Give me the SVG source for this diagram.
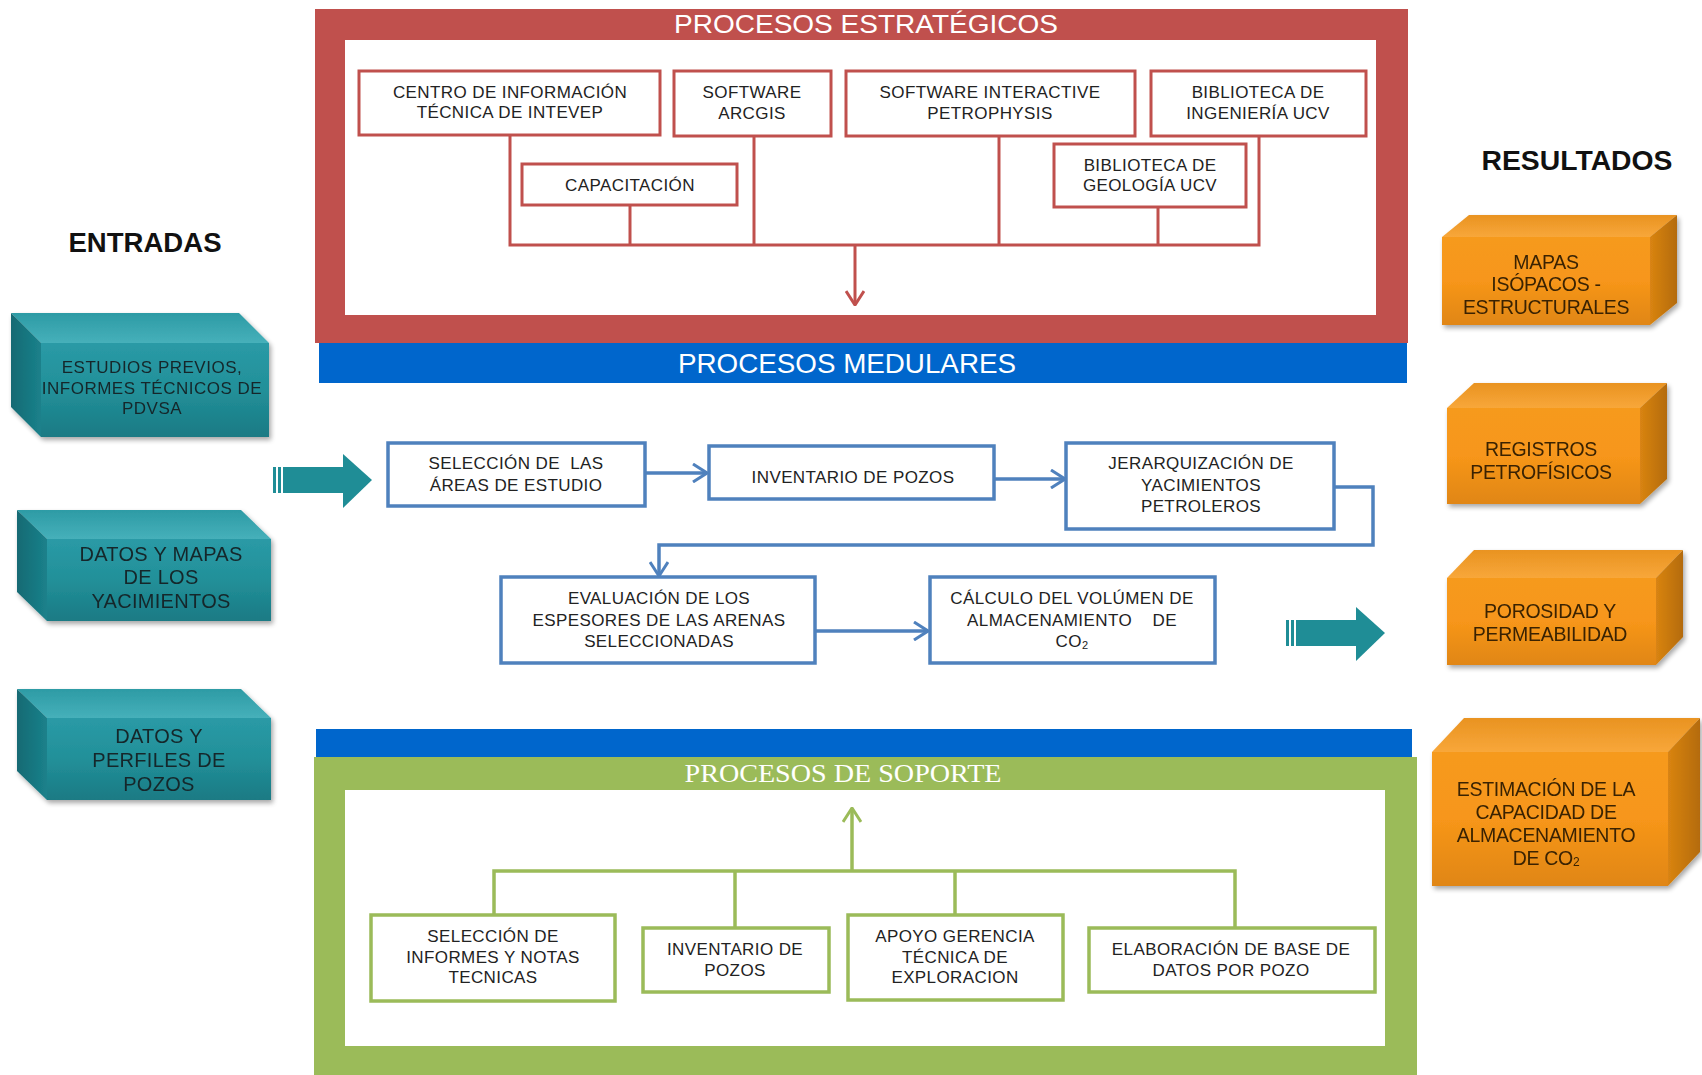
<svg xmlns="http://www.w3.org/2000/svg" width="1702" height="1075" viewBox="0 0 1702 1075">
<defs>
<style>
.t{font-family:'Liberation Sans',Arial,sans-serif;text-anchor:middle;dominant-baseline:central}
.rb{fill:#fff;stroke:#C0504D;stroke-width:3}
.bb{fill:#fff;stroke:#4F81BD;stroke-width:3.5}
.gb{fill:#fff;stroke:#9BBB59;stroke-width:3.5}
.bx{font-size:17px;fill:#222;letter-spacing:0.4px}
.tl{font-size:17px;fill:#14272a;letter-spacing:0.5px}
.tl2{font-size:20px;fill:#14272a;letter-spacing:0.3px}
.ol{font-size:19.5px;fill:#3a2405;letter-spacing:-0.3px}
.hd{font-size:27.5px;font-weight:bold;fill:#111}
.rl{fill:none;stroke:#C0504D;stroke-width:3}
.bl{fill:none;stroke:#4F81BD;stroke-width:3.5}
.gl{fill:none;stroke:#9BBB59;stroke-width:3.5}
</style>
<marker id="ar" viewBox="0 0 16 20" refX="15" refY="10" markerWidth="16" markerHeight="20" markerUnits="userSpaceOnUse" orient="auto"><path d="M1,1 L15,10 L1,19" fill="none" stroke="#C0504D" stroke-width="3"/></marker>
<marker id="ab" viewBox="0 0 16 20" refX="15" refY="10" markerWidth="16" markerHeight="20" markerUnits="userSpaceOnUse" orient="auto"><path d="M1,1 L15,10 L1,19" fill="none" stroke="#4F81BD" stroke-width="3"/></marker>
<marker id="ag" viewBox="0 0 16 20" refX="15" refY="10" markerWidth="16" markerHeight="20" markerUnits="userSpaceOnUse" orient="auto"><path d="M1,1 L15,10 L1,19" fill="none" stroke="#9BBB59" stroke-width="3"/></marker>
<linearGradient id="tf" x1="0" y1="0" x2="0" y2="1"><stop offset="0" stop-color="#2a9aa6"/><stop offset="0.5" stop-color="#229099"/><stop offset="1" stop-color="#1a7a84"/></linearGradient>
<linearGradient id="tt" x1="0" y1="0" x2="0" y2="1"><stop offset="0" stop-color="#2d9ba5"/><stop offset="1" stop-color="#46b0ba"/></linearGradient>
<linearGradient id="ts" x1="0" y1="0" x2="1" y2="0"><stop offset="0" stop-color="#126a73"/><stop offset="1" stop-color="#1b818b"/></linearGradient>
<linearGradient id="of" x1="0" y1="0" x2="0" y2="1"><stop offset="0" stop-color="#f69a1f"/><stop offset="0.5" stop-color="#f7961a"/><stop offset="1" stop-color="#e08612"/></linearGradient>
<linearGradient id="ot" x1="0" y1="0" x2="0" y2="1"><stop offset="0" stop-color="#e99321"/><stop offset="1" stop-color="#f8a73a"/></linearGradient>
<linearGradient id="os" x1="0" y1="0" x2="1" y2="0"><stop offset="0" stop-color="#d98412"/><stop offset="1" stop-color="#b46b0a"/></linearGradient>
<filter id="sh" x="-10%" y="-10%" width="125%" height="130%"><feGaussianBlur in="SourceAlpha" stdDeviation="2.5"/><feOffset dx="2" dy="3"/><feComponentTransfer><feFuncA type="linear" slope="0.35"/></feComponentTransfer><feMerge><feMergeNode/><feMergeNode in="SourceGraphic"/></feMerge></filter>
<g id="tarrow"><rect x="0" y="13" width="3" height="26" fill="#1f8d96"/><rect x="5" y="13" width="3" height="26" fill="#1f8d96"/><rect x="10" y="13" width="62" height="26" fill="#1f8d96"/><path d="M70,0 L99,26 L70,54 Z" fill="#1f8d96"/></g>
</defs>
<rect width="1702" height="1075" fill="#fff"/>

<!-- Frames -->
<g id="estrategicos">
<rect x="315" y="9" width="1093" height="334" fill="#C0504D"/>
<rect x="345" y="40" width="1031" height="275" fill="#fff"/>
<text class="t" x="866" y="24" font-size="26" fill="#fff" textLength="384" lengthAdjust="spacingAndGlyphs">PROCESOS ESTRATÉGICOS</text>
</g>
<g id="medulares">
<rect x="319" y="343" width="1088" height="40" fill="#0066CC"/>
<text class="t" x="847" y="363" font-size="28" fill="#fff" textLength="338" lengthAdjust="spacingAndGlyphs">PROCESOS MEDULARES</text>
</g>
<g id="soporte">
<rect x="316" y="729" width="1096" height="29" fill="#0066CC"/>
<rect x="314" y="757" width="1103" height="330" fill="#9BBB59"/>
<rect x="345" y="790" width="1040" height="256" fill="#fff"/>
<text x="843" y="773" font-family="'Liberation Serif','Times New Roman',serif" font-size="26" fill="#fff" text-anchor="middle" dominant-baseline="central" textLength="317" lengthAdjust="spacingAndGlyphs">PROCESOS DE SOPORTE</text>
</g>

<!-- Headings -->
<text id="entradas" class="t hd" x="145" y="242" textLength="153" lengthAdjust="spacingAndGlyphs">ENTRADAS</text>
<text id="resultados" class="t hd" x="1577" y="160" textLength="191" lengthAdjust="spacingAndGlyphs">RESULTADOS</text>

<!-- Connectors -->
<g id="connectors">
<path class="rl" d="M510,135 V245 H1259 V136"/>
<path class="rl" d="M630,205 V245"/>
<path class="rl" d="M754,136 V245"/>
<path class="rl" d="M999,136 V245"/>
<path class="rl" d="M1158,207 V245"/>
<path class="rl" d="M855,245 V305" marker-end="url(#ar)"/>
<path class="bl" d="M645,473 H707" marker-end="url(#ab)"/>
<path class="bl" d="M994,479 H1065" marker-end="url(#ab)"/>
<path class="bl" d="M1334,487 H1373 V545 H659 V576" marker-end="url(#ab)"/>
<path class="bl" d="M815,631 H928" marker-end="url(#ab)"/>
<path class="gl" d="M494,915 V871 H1235 V928"/>
<path class="gl" d="M735,928 V871"/>
<path class="gl" d="M955,915 V871"/>
<path class="gl" d="M852,871 V808" marker-end="url(#ag)"/>
<use href="#tarrow" x="273" y="454"/>
<use href="#tarrow" x="1286" y="607"/>
</g>

<!-- Estrategicos nodes -->
<g id="centro"><rect class="rb" x="359" y="71" width="301" height="64"/><text class="t bx" x="510" y="92">CENTRO DE INFORMACIÓN</text><text class="t bx" x="510" y="112">TÉCNICA DE INTEVEP</text></g>
<g id="arcgis"><rect class="rb" x="674" y="71" width="157" height="65"/><text class="t bx" x="752" y="92">SOFTWARE</text><text class="t bx" x="752" y="113">ARCGIS</text></g>
<g id="petrophysis"><rect class="rb" x="846" y="71" width="289" height="65"/><text class="t bx" x="990" y="92">SOFTWARE INTERACTIVE</text><text class="t bx" x="990" y="113">PETROPHYSIS</text></g>
<g id="ingenieria"><rect class="rb" x="1151" y="71" width="215" height="65"/><text class="t bx" x="1258" y="92">BIBLIOTECA DE</text><text class="t bx" x="1258" y="113">INGENIERÍA UCV</text></g>
<g id="capacitacion"><rect class="rb" x="522" y="164" width="215" height="41"/><text class="t bx" x="630" y="185">CAPACITACIÓN</text></g>
<g id="geologia"><rect class="rb" x="1054" y="144" width="192" height="63"/><text class="t bx" x="1150" y="165">BIBLIOTECA DE</text><text class="t bx" x="1150" y="185">GEOLOGÍA UCV</text></g>

<!-- Medulares nodes -->
<g id="seleccion"><rect class="bb" x="388" y="443" width="257" height="63"/><text class="t bx" x="516" y="463" xml:space="preserve">SELECCIÓN DE  LAS</text><text class="t bx" x="516" y="485">ÁREAS DE ESTUDIO</text></g>
<g id="inventario"><rect class="bb" x="709" y="446" width="285" height="53"/><text class="t bx" x="853" y="477">INVENTARIO DE POZOS</text></g>
<g id="jerarquizacion"><rect class="bb" x="1066" y="443" width="268" height="86"/><text class="t bx" x="1201" y="463">JERARQUIZACIÓN DE</text><text class="t bx" x="1201" y="485">YACIMIENTOS</text><text class="t bx" x="1201" y="506">PETROLEROS</text></g>
<g id="evaluacion"><rect class="bb" x="501" y="577" width="314" height="86"/><text class="t bx" x="659" y="598">EVALUACIÓN DE LOS</text><text class="t bx" x="659" y="620">ESPESORES DE LAS ARENAS</text><text class="t bx" x="659" y="641">SELECCIONADAS</text></g>
<g id="calculo"><rect class="bb" x="930" y="577" width="285" height="86"/><text class="t bx" x="1072" y="598">CÁLCULO DEL VOLÚMEN DE</text><text class="t bx" x="1072" y="620" xml:space="preserve">ALMACENAMIENTO    DE</text><text class="t bx" x="1072" y="641">CO<tspan font-size="11" dy="4">2</tspan></text></g>

<!-- Soporte nodes -->
<g id="sel_informes"><rect class="gb" x="371" y="915" width="244" height="86"/><text class="t bx" x="493" y="936">SELECCIÓN DE</text><text class="t bx" x="493" y="957">INFORMES Y NOTAS</text><text class="t bx" x="493" y="977">TECNICAS</text></g>
<g id="inv_pozos"><rect class="gb" x="643" y="928" width="186" height="64"/><text class="t bx" x="735" y="949">INVENTARIO DE</text><text class="t bx" x="735" y="970">POZOS</text></g>
<g id="apoyo"><rect class="gb" x="848" y="915" width="215" height="85"/><text class="t bx" x="955" y="936">APOYO GERENCIA</text><text class="t bx" x="955" y="957">TÉCNICA DE</text><text class="t bx" x="955" y="977">EXPLORACION</text></g>
<g id="elaboracion"><rect class="gb" x="1089" y="928" width="286" height="64"/><text class="t bx" x="1231" y="949">ELABORACIÓN DE BASE DE</text><text class="t bx" x="1231" y="970">DATOS POR POZO</text></g>

<!-- Entradas -->
<g id="in1" filter="url(#sh)">
<polygon points="41,343 269,343 239,313 11,313" fill="url(#tt)"/>
<polygon points="41,343 11,313 11,407 41,437" fill="url(#ts)"/>
<rect x="41" y="343" width="228" height="94" fill="url(#tf)"/>
<text class="t tl" x="152" y="367">ESTUDIOS PREVIOS,</text><text class="t tl" x="152" y="388">INFORMES TÉCNICOS DE</text><text class="t tl" x="152" y="408">PDVSA</text>
</g>
<g id="in2" filter="url(#sh)">
<polygon points="47,539 271,539 241,510 17,510" fill="url(#tt)"/>
<polygon points="47,539 17,510 17,592 47,621" fill="url(#ts)"/>
<rect x="47" y="539" width="224" height="82" fill="url(#tf)"/>
<text class="t tl2" x="161" y="554">DATOS Y MAPAS</text><text class="t tl2" x="161" y="577">DE LOS</text><text class="t tl2" x="161" y="601">YACIMIENTOS</text>
</g>
<g id="in3" filter="url(#sh)">
<polygon points="47,718 271,718 241,689 17,689" fill="url(#tt)"/>
<polygon points="47,718 17,689 17,771 47,800" fill="url(#ts)"/>
<rect x="47" y="718" width="224" height="82" fill="url(#tf)"/>
<text class="t tl2" x="159" y="736">DATOS Y</text><text class="t tl2" x="159" y="760">PERFILES DE</text><text class="t tl2" x="159" y="784">POZOS</text>
</g>

<!-- Resultados -->
<g id="out1" filter="url(#sh)">
<polygon points="1442,237 1650,237 1677,215 1469,215" fill="url(#ot)"/>
<polygon points="1650,237 1677,215 1677,303 1650,325" fill="url(#os)"/>
<rect x="1442" y="237" width="208" height="88" fill="url(#of)"/>
<text class="t ol" x="1546" y="262">MAPAS</text><text class="t ol" x="1546" y="284">ISÓPACOS -</text><text class="t ol" x="1546" y="307">ESTRUCTURALES</text>
</g>
<g id="out2" filter="url(#sh)">
<polygon points="1447,408 1640,408 1667,383 1474,383" fill="url(#ot)"/>
<polygon points="1640,408 1667,383 1667,479 1640,504" fill="url(#os)"/>
<rect x="1447" y="408" width="193" height="96" fill="url(#of)"/>
<text class="t ol" x="1541" y="449">REGISTROS</text><text class="t ol" x="1541" y="472">PETROFÍSICOS</text>
</g>
<g id="out3" filter="url(#sh)">
<polygon points="1447,578 1656,578 1683,550 1474,550" fill="url(#ot)"/>
<polygon points="1656,578 1683,550 1683,637 1656,665" fill="url(#os)"/>
<rect x="1447" y="578" width="209" height="87" fill="url(#of)"/>
<text class="t ol" x="1550" y="611">POROSIDAD Y</text><text class="t ol" x="1550" y="634">PERMEABILIDAD</text>
</g>
<g id="out4" filter="url(#sh)">
<polygon points="1432,752 1668,752 1700,718 1464,718" fill="url(#ot)"/>
<polygon points="1668,752 1700,718 1700,852 1668,886" fill="url(#os)"/>
<rect x="1432" y="752" width="236" height="134" fill="url(#of)"/>
<text class="t ol" x="1546" y="789">ESTIMACIÓN DE LA</text><text class="t ol" x="1546" y="812">CAPACIDAD DE</text><text class="t ol" x="1546" y="835">ALMACENAMIENTO</text><text class="t ol" x="1546" y="858">DE CO<tspan font-size="12" dy="4">2</tspan></text>
</g>
</svg>
